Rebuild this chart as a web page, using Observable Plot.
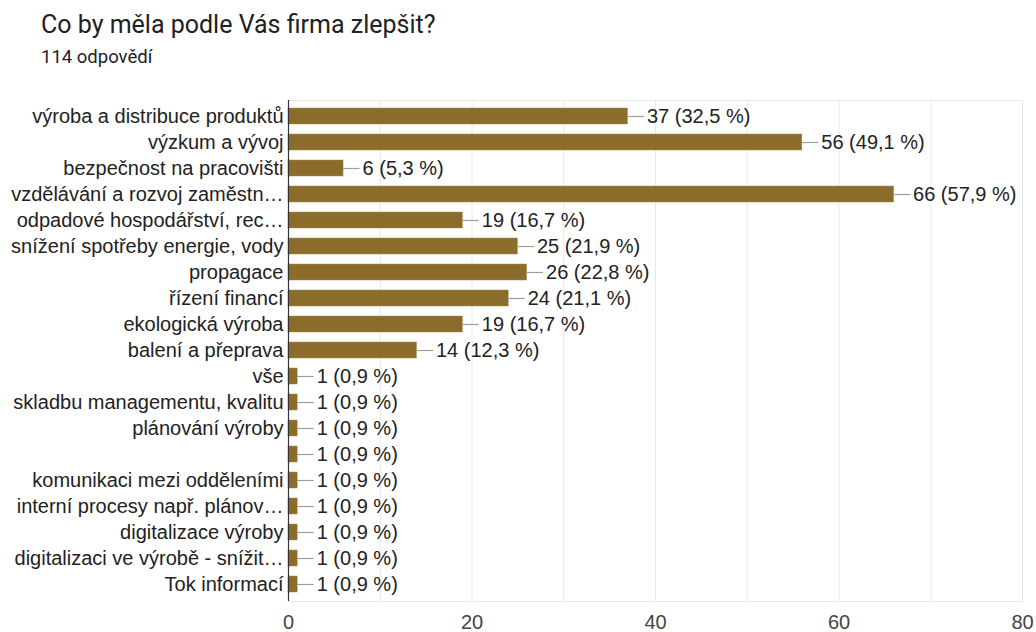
<!DOCTYPE html>
<html>
<head>
<meta charset="utf-8">
<script src="https://cdn.jsdelivr.net/npm/d3@7"></script>
<script src="https://cdn.jsdelivr.net/npm/@observablehq/plot@0.6"></script>
<style>
  html, body { margin: 0; padding: 0; background: #fff; }
  body { width: 1036px; height: 632px; position: relative; overflow: hidden; font-family: Roboto, "Noto Sans", sans-serif; }
  #title { position: absolute; left: 41px; top: 12px; font-size: 25px; line-height: 25px; color: #202124; }
  #subtitle { position: absolute; left: 41px; top: 48px; font-size: 18.5px; line-height: 18px; color: #202124; }
  #chart { position: absolute; left: 0; top: 80px; }
</style>
</head>
<body>
<div id="title">Co by měla podle Vás firma zlepšit?</div>
<div id="subtitle">114 odpovědí</div>
<div id="chart"></div>
<script>
const categories = [
  "výroba a distribuce produktů",
  "výzkum a vývoj",
  "bezpečnost na pracovišti",
  "vzdělávání a rozvoj zaměstn…",
  "odpadové hospodářství, rec…",
  "snížení spotřeby energie, vody",
  "propagace",
  "řízení financí",
  "ekologická výroba",
  "balení a přeprava",
  "vše",
  "skladbu managementu, kvalitu",
  "plánování výroby",
  "",
  "komunikaci mezi odděleními",
  "interní procesy např. plánov…",
  "digitalizace výroby",
  "digitalizaci ve výrobě - snížit…",
  "Tok informací"
];
const counts = [37, 56, 6, 66, 19, 25, 26, 24, 19, 14, 1, 1, 1, 1, 1, 1, 1, 1, 1];
const percents = ["32,5", "49,1", "5,3", "57,9", "16,7", "21,9", "22,8", "21,1", "16,7", "12,3",
  "0,9", "0,9", "0,9", "0,9", "0,9", "0,9", "0,9", "0,9", "0,9"];
const xTicks = [0, 20, 40, 60, 80];
const gridTicks = [10, 20, 30, 40, 50, 60, 70, 80];

const data = categories.map((c, i) => ({cat: c, value: counts[i], pct: percents[i]}));
const leader = 1.8; // leader line length in data units
const chartFont = "'Liberation Sans', Arial, sans-serif";

const chart = Plot.plot({
  width: 1036,
  height: 552,
  marginLeft: 288,
  marginRight: 14,
  marginTop: 20,
  marginBottom: 31,
  style: {fontFamily: chartFont, fontSize: "20px", color: "#222", background: "#fff"},
  x: {domain: [0, 80], ticks: xTicks},
  y: {domain: categories, paddingInner: 0.38, paddingOuter: 0.19},
  marks: [
    Plot.ruleX(gridTicks, {stroke: "#e8e8e8", strokeWidth: 1}),
    Plot.frame({stroke: "#e8e8e8"}),
    Plot.barX(data, {x: "value", y: "cat", fill: "#8c6c2b", stroke: "#a38a55", strokeWidth: 0.5}),
    Plot.ruleY(data, {y: "cat", x1: "value", x2: d => d.value + leader, stroke: "#9e9e9e", strokeWidth: 1.2}),
    Plot.text(data, {y: "cat", x: "value", text: d => `${d.value} (${d.pct} %)`, dx: 19, textAnchor: "start", fill: "#222", fontSize: 20, fontFamily: chartFont}),
    Plot.ruleX([0], {stroke: "#333", strokeWidth: 1.2}),
    Plot.axisX({ticks: xTicks, tickSize: 0, tickPadding: 13, fontSize: 20, fontFamily: chartFont, color: "#444", label: null}),
    Plot.axisY({tickSize: 0, tickPadding: 5, fontSize: 20, fontFamily: chartFont, color: "#222", label: null})
  ]
});
document.getElementById("chart").appendChild(chart);
</script>
</body>
</html>
